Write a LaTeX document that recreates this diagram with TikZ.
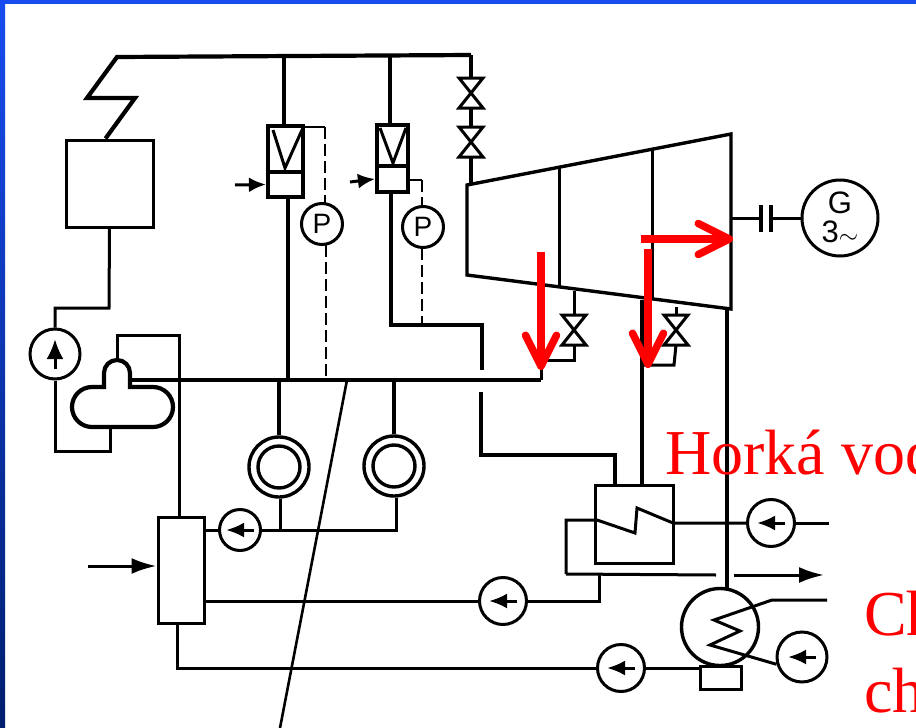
\documentclass[tikz,border=0pt]{standalone}
\usepackage{fontspec}
\setmainfont{Liberation Serif}
\newfontfamily\symfont{Liberation Sans}
\usetikzlibrary{arrows.meta}
\definecolor{framehi}{RGB}{24,76,240}
\definecolor{framelo}{RGB}{0,30,110}
\tikzset{heavy/.style={line width=4.2pt, line join=miter}}
\tikzset{light/.style={line width=3pt}}
\tikzset{signal/.style={line width=2.6pt, dash pattern=on 12pt off 5pt}}
\tikzset{box/.style={rectangle, draw, light, inner sep=0pt}}
\tikzset{boxheavy/.style={rectangle, draw, heavy, inner sep=0pt}}
\tikzset{ring/.style={circle, draw, light, inner sep=0pt, minimum size=#1}}
\tikzset{pumparrow/.style={line width=3pt, -{Latex[length=18pt,width=15pt]}}}
\tikzset{feedarrow/.style={line width=3pt, -{Latex[length=25pt,width=16pt]}}}
\tikzset{redarrow/.style={draw=red, line width=7.5pt, -{Straight Barb[round,length=31pt,width=31pt]}}}
\tikzset{redtext/.style={text=red, anchor=base west, inner sep=0pt, font=\fontsize{64}{64}\selectfont}}
\tikzset{valvesym/.pic={
   \draw[light, line join=miter] (-12,-15) -- (12,-15) -- (-12,15) -- (12,15) -- cycle;
   \coordinate (-t) at (0,-15);
   \coordinate (-b) at (0,15);
}}
\begin{document}
\begin{tikzpicture}[x=1pt,y=-1pt]

    \useasboundingbox (0,0) rectangle (916,728);
    \clip (0,0) rectangle (916,728);
    \fill[white] (0,0) rectangle (916,728);
    \shade[top color=framehi, bottom color=framelo] (0,0) rectangle (5,728);
    \fill[framehi] (0,0) rectangle (916,4);

    % steam side
    \coordinate (heada) at (117,57);
    \coordinate (headb) at (471,55);
    \coordinate (busa) at (130,380);
    \coordinate (busb) at (541,380);

    \node[box, minimum width=87pt, minimum height=87pt] (boiler) at (109.5,183.5) {};
    \draw[heavy] (boiler.north) ++(-4,0) -- (135,98) -- (87,98) -- (heada) -- (headb);
    \draw[heavy] (busa) -- (busb);

    \node[boxheavy, minimum width=35pt, minimum height=46pt] (regone) at (285.5,149) {};
    \node[boxheavy, minimum width=35pt, minimum height=25pt] (actone) at (285.5,184.5) {};
    \node[boxheavy, minimum width=31pt, minimum height=41pt] (regtwo) at (392.5,145.5) {};
    \node[boxheavy, minimum width=31pt, minimum height=26pt] (acttwo) at (392.5,179) {};
    \draw[light] (273,130) -- (285,168) -- (302,130);
    \draw[light] (380,128) -- (393,163) -- (406,128);

    \draw[heavy] (regone.north -| 284,0) -- (284,0 |- heada);
    \draw[heavy] (regtwo.north -| 390,0) -- (390,0 |- heada);
    \draw[heavy] (actone.south -| 288,0) -- (288,0 |- busa);
    \draw[feedarrow, -{Latex[length=17pt,width=15pt]}] (235,185) -- (actone.west);
    \draw[feedarrow, -{Latex[length=17pt,width=15pt]}] (350,182) -- (acttwo.west);

    \node[ring=41pt, font=\symfont\fontsize{28}{28}\selectfont] (pone) at (322,224) {P};
    \node[ring=41pt, font=\symfont\fontsize{28}{28}\selectfont] (ptwo) at (423,227) {P};
    \draw[line width=2.6pt] (regone.east |- 0,127) -- (325,127);
    \draw[signal] (325,127) -- (325,204);
    \draw[signal] (326,245) -- (326,380);
    \draw[line width=2.6pt] (acttwo.east |- 0,180) -- (422,180);
    \draw[signal] (422,180) -- (422,207);
    \draw[signal] (422,248) -- (422,324);

    % valves and turbine
    \pic (va) at (471,93) {valvesym};
    \pic (vb) at (471,142) {valvesym};
    \pic (vc) at (574,330) {valvesym};
    \pic (vd) at (676,330) {valvesym};
    \draw[heavy] (471,55) -- (va-t);
    \draw[heavy] (va-b) -- (vb-t);
    \draw[heavy] (vb-b) -- (471,184);

    \draw[light, line width=3.4pt, line join=miter] (467,185) coordinate (turba) -- (731,134) coordinate (turbb)
        -- (731,309) coordinate (turbc) -- (467,275) coordinate (turbd) -- cycle;
    \draw[light] (559,167) -- (559,287);
    \draw[light] (652,150) -- (652,300);

    \draw[light] (574,291) -- (vc-t);
    \draw[light] (vc-b) -- (574,360) -- (541,360) -- (busb);
    \draw[light] (676,307) -- (vd-t);
    \draw[light] (vd-b) -- (674,365) -- (643,365);

    % generator
    \node[ring=76pt, align=center, font=\symfont\fontsize{31}{29}\selectfont] (gen) at (840,218) {G\\3\raisebox{-1pt}{$\sim$}};
    \coordinate (coupa) at (761,218);
    \coordinate (coupb) at (771,218);
    \draw[light] (turbc |- gen) -- (coupa);
    \draw[light] (coupb) -- (gen.west);
    \draw[line width=3.4pt] (761,205) -- (761,232);
    \draw[line width=3.4pt] (771,205) -- (771,232);

    % drum and first pump
    \draw[heavy] (130,380) -- (130,387) -- (153,387) arc[start angle=270,end angle=450,radius=20]
        -- (92,427) arc[start angle=90,end angle=270,radius=20] -- (104,387) -- (104,373)
        arc[start angle=180,end angle=360,radius=13] -- (130,380);
    \node[ring=50pt] (pumpa) at (55,354) {};
    \draw[feedarrow, -{Latex[length=20pt,width=17pt]}] (55,369) -- (55,339);
    \draw[light] (boiler.south) -- (109,308) -- (55,308) -- (pumpa.north);
    \draw[light] (pumpa.south) -- (55,451) -- (110,451) -- (110,427);
    \draw[light] (117,360) -- (117,335) -- (179,335) -- (179,516);

    % feed heating
    \node[box, minimum width=46pt, minimum height=106pt] (tank) at (181,570) {};
    \coordinate (tankin) at (88,566);
    \draw[feedarrow] (tankin) -- (tank.west |- tankin);
    \foreach \nm/\px/\py/\sz in {pumpb/240/530/41, pumpc/503/601/47, pumpd/621/668/47, pumpe/771/523/47, pumpf/802/657/50}{
      \node[ring=\sz pt] (\nm) at (\px,\py) {};
      \draw[pumparrow] ([xshift=14pt]\nm.center) -- ([xshift=-14pt]\nm.center);
    }
    \draw[light] (tank.east |- pumpb) -- (pumpb.west);

    \foreach \nm/\px/\py in {hta/279/467, htb/394/466}{
      \node[ring=60pt, line width=3.4pt] (\nm) at (\px,\py) {};
      \node[ring=42pt, line width=3.4pt] (\nm i) at (\px,\py) {};
    }
    \draw[heavy] (hta.north) -- (hta.north |- busa);
    \draw[heavy] (htb.north) -- (htb.north |- busa);
    \draw[light] (pumpb.east) -- (396,530) -- (htb.south -| 396,0);
    \draw[light] (280,530) -- (hta.south -| 280,0);

    % heater and condenser
    \node[box, minimum width=78pt, minimum height=78pt] (heater) at (634,524) {};
    \draw[heavy] (391,192) -- (391,325) -- (482,325) -- (482,370);
    \draw[heavy] (481,392) -- (481,455) -- (615,455) -- (615,485);
    \draw[heavy, line width=3.4pt] (642,300) -- (642,485);

    \draw[light, line join=miter] (pumpe.west) -- (673,523) -- (637,508) -- (635,533) -- (597,520) -- (566,520) -- (566,574) coordinate (loopa);
    \coordinate (outa) at (716,575);
    \coordinate (outb) at (734,575);
    \coordinate (oute) at (824,575);
    \draw[light] (loopa) -- (outa);
    \draw[feedarrow] (outb) -- (oute);
    \coordinate (wtra) at (829,523);
    \draw[light] (pumpe.east) -- (wtra);
    \draw[light] (599,575) -- (599,601) -- (pumpc.east);
    \draw[light] (pumpc.west) -- (tank.east |- pumpc);

    \node[ring=77pt, line width=3.4pt] (cond) at (720,627) {};
    \node[box, minimum width=41pt, minimum height=23pt, anchor=north] (well) at (720.5,665) {};
    \draw[heavy] (727,309) -- (727,588);
    \coordinate (coola) at (827,600);
    \draw[light, line join=miter] (coola) -- (772,600) -- (714,620) -- (740,631) -- (710,645) -- (pumpf.196);
    \draw[light] (well.west |- pumpd) -- (pumpd.east);
    \draw[light] (pumpd.west) -- (177,668) -- (tank.south -| 177,0);

    % pointer and red marks
    \coordinate (ptra) at (347,380);
    \coordinate (ptrb) at (280,728);
    \draw[line width=2.6pt] (ptra) -- (ptrb);

    \coordinate (reda) at (541,252);
    \coordinate (redb) at (541,370);
    \coordinate (redc) at (648,249);
    \coordinate (redd) at (648,368);
    \coordinate (rede) at (641,239);
    \coordinate (redf) at (733,239);
    \draw[redarrow] (reda) -- (redb);
    \draw[redarrow] (redc) -- (redd);
    \draw[redarrow] (rede) -- (redf);

    \node[redtext] (hot) at (665,474) {Horká voda};
    \node[redtext] (coldup) at (864,635) {Ch};
    \node[redtext] (colddn) at (864,712) {ch};

\end{tikzpicture}
\end{document}
